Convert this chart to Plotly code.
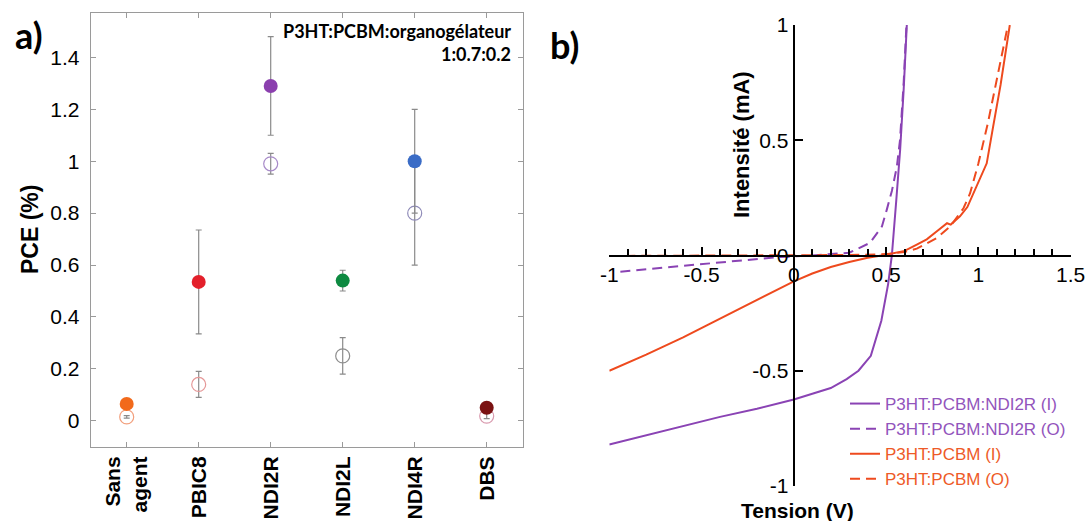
import plotly.graph_objects as go

# ---------------- data: panel a) ----------------
categories = ["Sans<br>agent", "PBIC8", "NDI2R", "NDI2L", "NDI4R", "DBS"]
pce_filled = [0.065, 0.535, 1.29, 0.54, 1.00, 0.05]
pce_filled_err = [0.0, 0.20, 0.19, 0.04, 0.20, 0.0]
pce_open = [0.015, 0.14, 0.99, 0.25, 0.80, 0.018]
pce_open_err = [0.005, 0.05, 0.04, 0.07, 0.20, 0.01]

# ---------------- data: panel b) ----------------
v_ndi2r_i = [-1.0, -0.8, -0.6, -0.4, -0.2, 0.0, 0.1, 0.2, 0.286, 0.35, 0.417, 0.474, 0.511, 0.531, 0.555, 0.576, 0.595, 0.612]
i_ndi2r_i = [-0.82, -0.78, -0.74, -0.70, -0.665, -0.625, -0.60, -0.575, -0.536, -0.50, -0.435, -0.283, -0.123, 0.0, 0.24, 0.46, 0.72, 1.0]

v_ndi2r_o = [-0.94, -0.7, -0.5, -0.3, -0.1, 0.1, 0.3, 0.413, 0.477, 0.504, 0.531, 0.558, 0.575, 0.595, 0.61]
i_ndi2r_o = [-0.07, -0.052, -0.037, -0.022, -0.008, 0.0, 0.012, 0.055, 0.126, 0.20, 0.28, 0.385, 0.50, 0.75, 1.0]

v_pcbm_i = [-1.0, -0.8, -0.6, -0.4, -0.2, 0.0, 0.1, 0.2, 0.3, 0.4, 0.5, 0.6, 0.666, 0.72, 0.775, 0.81, 0.83, 0.85, 0.9, 0.94, 0.99, 1.045, 1.08, 1.12, 1.17]
i_pcbm_i = [-0.50, -0.43, -0.355, -0.275, -0.195, -0.112, -0.078, -0.05, -0.028, -0.01, 0.003, 0.02, 0.047, 0.07, 0.105, 0.13, 0.14, 0.134, 0.17, 0.21, 0.30, 0.40, 0.56, 0.74, 1.0]

v_pcbm_o = [-1.0, -0.5, 0.0, 0.3, 0.5, 0.6, 0.666, 0.775, 0.847, 0.919, 0.955, 1.0, 1.05, 1.10, 1.155]
i_pcbm_o = [-0.002, -0.001, 0.0, 0.002, 0.006, 0.015, 0.03, 0.076, 0.126, 0.205, 0.27, 0.40, 0.57, 0.76, 0.98]

x_ticks_b = [-1, -0.5, 0, 0.5, 1, 1.5]
x_ticktext_b = ["-1", "-0.5", "0", "0.5", "1", "1.5"]
y_ticks_b = [-1, -0.5, 0, 0.5, 1]
y_ticktext_b = ["-1", "-0.5", "0", "0.5", "1"]

# ---------------- styles ----------------
filled_colors = ["#F26A1B", "#E3202B", "#8B3FAE", "#0E8A41", "#3A6CC6", "#7A1212"]
open_colors = ["#F2A07E", "#E59898", "#A88BC9", "#8E8E8E", "#8F8BB8", "#D99AAE"]
PURPLE = "#8A43B4"
ORANGE = "#EE4A1E"
ARIAL = "Liberation Sans, Arial, sans-serif"
CALIBRI = "Lato, Open Sans, sans-serif"

W, H = 1089, 521


def px(x):
    return x / W


def py(y):
    return (H - y) / H


fig = go.Figure()

# panel a
fig.add_trace(go.Scatter(
    x=categories, y=pce_open, mode="markers",
    marker=dict(symbol="circle-open", size=14, color=open_colors, line=dict(width=1.2, color=open_colors)),
    error_y=dict(type="data", array=pce_open_err, color="#8a8a8a", thickness=1.2, width=3),
    xaxis="x", yaxis="y", showlegend=False))
fig.add_trace(go.Scatter(
    x=categories, y=pce_filled, mode="markers",
    marker=dict(symbol="circle", size=14, color=filled_colors),
    error_y=dict(type="data", array=pce_filled_err, color="#8a8a8a", thickness=1.2, width=3),
    xaxis="x", yaxis="y", showlegend=False))

# panel b
fig.add_trace(go.Scatter(x=v_ndi2r_i, y=i_ndi2r_i, mode="lines",
                         line=dict(color=PURPLE, width=2),
                         name="<span style='color:%s'>P3HT:PCBM:NDI2R (I)</span>" % "#9254BC",
                         xaxis="x2", yaxis="y2"))
fig.add_trace(go.Scatter(x=v_ndi2r_o, y=i_ndi2r_o, mode="lines",
                         line=dict(color=PURPLE, width=2, dash="10px,6px"),
                         name="<span style='color:%s'>P3HT:PCBM:NDI2R (O)</span>" % "#9254BC",
                         xaxis="x2", yaxis="y2"))
fig.add_trace(go.Scatter(x=v_pcbm_i, y=i_pcbm_i, mode="lines",
                         line=dict(color=ORANGE, width=2),
                         name="<span style='color:%s'>P3HT:PCBM (I)</span>" % "#EE5A28",
                         xaxis="x2", yaxis="y2"))
fig.add_trace(go.Scatter(x=v_pcbm_o, y=i_pcbm_o, mode="lines",
                         line=dict(color=ORANGE, width=2, dash="10px,6px"),
                         name="<span style='color:%s'>P3HT:PCBM (O)</span>" % "#EE5A28",
                         xaxis="x2", yaxis="y2"))

# domains
ax_l = [px(90.7), px(522.7)]
ay_l = [py(447), py(13)]
bx_d = [px(609.3), px(1070.7)]
by_d = [py(486), py(25)]

fig.update_layout(
    width=W, height=H,
    margin=dict(l=0, r=0, t=0, b=0, pad=0, autoexpand=False),
    paper_bgcolor="white", plot_bgcolor="white",
    font=dict(family=ARIAL, color="black"),
    xaxis=dict(domain=ax_l, anchor="y", type="category", range=[-0.5, 5.5], automargin=False,
               showline=True, mirror="ticks", linecolor="#9a9a9a", linewidth=1,
               ticks="inside", ticklen=5, tickcolor="#9a9a9a", tickangle=-90,
               tickfont=dict(size=21, family=ARIAL, color="black", weight="bold"),
               showgrid=False, zeroline=False),
    yaxis=dict(domain=ay_l, anchor="x", range=[-0.101, 1.571], tick0=0, dtick=0.2, automargin=False,
               showline=True, mirror="ticks", linecolor="#9a9a9a", linewidth=1,
               ticks="inside", ticklen=5, tickcolor="#9a9a9a",
               tickfont=dict(size=21, family=ARIAL, color="black"),
               ticklabelstandoff=6,
               showgrid=False, zeroline=False),
    xaxis2=dict(domain=bx_d, anchor="free", position=py(256), range=[-1, 1.5], automargin=False,
                tickmode="array", tickvals=x_ticks_b, ticktext=x_ticktext_b,
                showline=True, linecolor="black", linewidth=2,
                ticks="inside", ticklen=8, tickwidth=1.5, tickcolor="black",
                minor=dict(dtick=0.1, ticks="inside", ticklen=6, tickwidth=1.5, tickcolor="black"),
                tickfont=dict(size=21, family=ARIAL, color="black"),
                showgrid=False, zeroline=False),
    yaxis2=dict(domain=by_d, anchor="free", position=px(793.6), range=[-1, 1], automargin=False,
                tickmode="array", tickvals=y_ticks_b, ticktext=y_ticktext_b,
                showline=True, linecolor="black", linewidth=2,
                ticks="inside", ticklen=8, tickwidth=1.5, tickcolor="black",
                tickfont=dict(size=21, family=ARIAL, color="black"),
                showgrid=False, zeroline=False),
    legend=dict(x=px(845), y=py(386), xanchor="left", yanchor="top",
                bgcolor="rgba(0,0,0,0)", font=dict(size=17, family=ARIAL),
                tracegroupgap=0, itemwidth=30),
    showlegend=True,
)

annots = [
    dict(x=px(29), y=py(35), text="<b>a)</b>", font=dict(size=36, family=CALIBRI)),
    dict(x=px(564), y=py(45), text="<b>b)</b>", font=dict(size=36, family=CALIBRI)),
    dict(x=px(513), y=py(31), text="<b>P3HT:PCBM:organogélateur</b>", xanchor="right",
         font=dict(size=18, family=CALIBRI)),
    dict(x=px(513), y=py(54), text="<b>1:0.7:0.2</b>", xanchor="right",
         font=dict(size=18, family=CALIBRI)),
    dict(x=px(30), y=py(230), text="<b>PCE (%)</b>", textangle=-90,
         font=dict(size=23, family=ARIAL)),
    dict(x=px(742), y=py(145), text="<b>Intensité (mA)</b>", textangle=-90,
         font=dict(size=22, family=ARIAL)),
    dict(x=px(797), y=py(510), text="<b>Tension (V)</b>",
         font=dict(size=21, family=ARIAL)),
]
for a in annots:
    a.setdefault("xanchor", "center")
    fig.add_annotation(xref="paper", yref="paper", yanchor="middle", showarrow=False, **a)

fig.write_html(
    "out.html",
    config={"displayModeBar": False},
    post_script="document.body.style.margin='0';document.body.style.padding='0';"
                "document.body.style.overflow='hidden';",
)
